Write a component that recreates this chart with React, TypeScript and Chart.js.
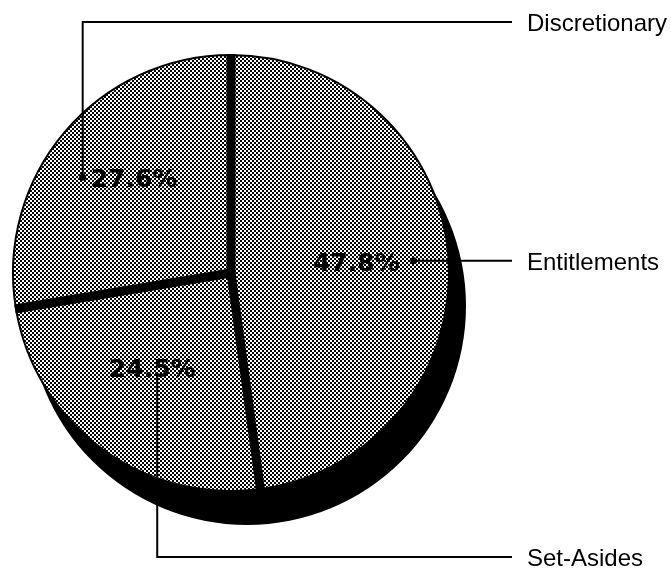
import React, { useEffect, useRef } from 'react';
import { Chart, registerables } from 'chart.js';

Chart.register(...registerables);

// ---- data ----
const categories = ['Entitlements', 'Set-Asides', 'Discretionary'];
const shares = [47.8, 24.5, 27.6];

// ---- label placement (styling, not data) ----
const anchorAngleShiftDeg = [0, -0.7, -7.4];
const anchorRadiusFrac = [0.84, 0.58, 0.81];
const leaderRoute = ['right', 'down', 'up'];

function makeHalftone(): CanvasPattern | string {
  const c = document.createElement('canvas');
  c.width = 4;
  c.height = 4;
  const g = c.getContext('2d');
  if (!g) return '#888';
  g.fillStyle = '#ffffff';
  g.fillRect(0, 0, 4, 4);
  g.fillStyle = '#000000';
  g.fillRect(0, 0, 2, 2);
  g.fillRect(2, 2, 2, 2);
  const p = g.createPattern(c, 'repeat');
  return p || '#888';
}

const shadowPlugin = {
  id: 'pieShadow',
  beforeDatasetsDraw(chart: any) {
    const arc = chart.getDatasetMeta(0).data[0];
    if (!arc) return;
    const { x, y, outerRadius } = arc.getProps(['x', 'y', 'outerRadius'], true);
    const ctx = chart.ctx;
    ctx.save();
    ctx.fillStyle = '#000';
    ctx.beginPath();
    ctx.arc(x + 16, y + 33, outerRadius + 1, 0, Math.PI * 2);
    ctx.fill();
    ctx.restore();
  },
};

const dividerPlugin = {
  id: 'pieDividers',
  afterDatasetsDraw(chart: any) {
    const ctx = chart.ctx;
    const arcs = chart.getDatasetMeta(0).data;
    ctx.save();
    ctx.strokeStyle = '#000';
    ctx.lineWidth = 9;
    ctx.lineCap = 'butt';
    arcs.forEach((arc: any) => {
      const { x, y, outerRadius, startAngle } = arc.getProps(
        ['x', 'y', 'outerRadius', 'startAngle'],
        true
      );
      ctx.beginPath();
      ctx.moveTo(x, y);
      ctx.lineTo(x + (outerRadius + 1) * Math.cos(startAngle), y + (outerRadius + 1) * Math.sin(startAngle));
      ctx.stroke();
    });
    ctx.beginPath();
    ctx.fillStyle = '#000';
    const a0 = arcs[0];
    if (a0) {
      ctx.arc(a0.x, a0.y, 4.5, 0, Math.PI * 2);
      ctx.fill();
    }
    ctx.restore();
  },
};

const labelPlugin = {
  id: 'pieLabels',
  afterDraw(chart: any) {
    const ctx = chart.ctx;
    const arcs = chart.getDatasetMeta(0).data;
    const H = chart.height;
    const leaderEndX = 512;
    const labelX = 527;
    const topY = 22;
    const bottomY = H - 14;
    ctx.save();
    arcs.forEach((arc: any, i: number) => {
      const { x, y, outerRadius, startAngle, endAngle } = arc.getProps(
        ['x', 'y', 'outerRadius', 'startAngle', 'endAngle'],
        true
      );
      const a = (startAngle + endAngle) / 2 + (anchorAngleShiftDeg[i] * Math.PI) / 180;
      const r = outerRadius * anchorRadiusFrac[i];
      const px = x + r * Math.cos(a);
      const py = y + r * Math.sin(a);
      const pct = shares[i].toFixed(1) + '%';
      const route = leaderRoute[i];

      // leader line
      ctx.strokeStyle = '#000';
      ctx.lineWidth = 2;
      ctx.beginPath();
      let lineY = py;
      if (route === 'right') {
        ctx.moveTo(px, py);
        ctx.lineTo(leaderEndX, py);
      } else if (route === 'up') {
        lineY = topY;
        ctx.moveTo(px, py);
        ctx.lineTo(px, topY);
        ctx.lineTo(leaderEndX, topY);
      } else {
        lineY = bottomY;
        ctx.moveTo(px, py);
        ctx.lineTo(px, bottomY);
        ctx.lineTo(leaderEndX, bottomY);
      }
      ctx.stroke();

      // dot
      if (route !== 'down') {
        ctx.fillStyle = '#000';
        ctx.beginPath();
        ctx.arc(px, py, 3.5, 0, Math.PI * 2);
        ctx.fill();
      }

      // percentage text
      ctx.fillStyle = '#000';
      ctx.font = 'bold 25px "DejaVu Sans"';
      ctx.textBaseline = 'alphabetic';
      if (route === 'right') {
        ctx.textAlign = 'right';
        ctx.fillText(pct, px - 14, py + 10);
      } else if (route === 'up') {
        ctx.textAlign = 'left';
        ctx.fillText(pct, px + 8, py + 10);
      } else {
        ctx.textAlign = 'center';
        ctx.fillText(pct, px - 5, py + 1);
      }

      // category label
      ctx.font = '24px "Liberation Sans", Arial, sans-serif';
      ctx.textAlign = 'left';
      ctx.fillText(categories[i], labelX, lineY + 9);
    });
    ctx.restore();
  },
};

export default function App() {
  const ref = useRef<HTMLCanvasElement>(null);

  useEffect(() => {
    if (!ref.current) return;
    const pattern = makeHalftone();
    const chart = new Chart(ref.current, {
      type: 'pie',
      data: {
        labels: categories,
        datasets: [
          {
            data: shares,
            backgroundColor: shares.map(() => pattern),
            borderColor: '#000',
            borderWidth: 2,
          },
        ],
      },
      options: {
        animation: false,
        responsive: false,
        devicePixelRatio: 1,
        events: [],
        rotation: 0,
        layout: { padding: { left: 12, right: 221, top: 54, bottom: 79 } },
        plugins: {
          legend: { display: false },
          tooltip: { enabled: false },
          title: { display: false },
        },
      } as any,
      plugins: [shadowPlugin, dividerPlugin, labelPlugin],
    });
    return () => chart.destroy();
  }, []);

  return (
    <div style={{ position: 'absolute', left: 0, top: 0, width: 671, height: 571, background: '#fff' }}>
      <canvas ref={ref} width={671} height={571} style={{ display: 'block' }} />
    </div>
  );
}
